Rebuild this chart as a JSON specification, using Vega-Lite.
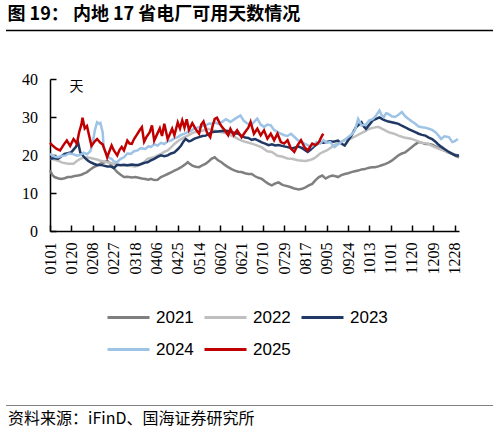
{
  "$schema": "https://vega.github.io/schema/vega-lite/v6.json",
  "padding": {"left": 5, "top": 6, "right": 5, "bottom": 3},
  "width": 409,
  "height": 152,
  "config": {"view": {"stroke": null}},
  "title": {"text": "图 19：  内地 17 省电厂可用天数情况", "anchor": "start", "frame": "bounds", "font": "Noto Sans CJK SC", "fontSize": 18, "fontWeight": "bold", "color": "black", "offset": 6, "dx": 2},
  "data": {"values": [
    {"year":"2021","day":1,"value":16.0},{"year":"2021","day":3,"value":14.8},{"year":"2021","day":5,"value":14.2},{"year":"2021","day":8,"value":13.9},{"year":"2021","day":11,"value":13.7},{"year":"2021","day":14,"value":13.9},{"year":"2021","day":17,"value":14.2},{"year":"2021","day":20,"value":14.2},{"year":"2021","day":23,"value":14.5},{"year":"2021","day":26,"value":14.6},{"year":"2021","day":29,"value":14.8},{"year":"2021","day":32,"value":15.2},{"year":"2021","day":34,"value":15.5},{"year":"2021","day":37,"value":16.2},{"year":"2021","day":40,"value":16.8},{"year":"2021","day":43,"value":17.2},{"year":"2021","day":46,"value":17.7},{"year":"2021","day":49,"value":18.0},{"year":"2021","day":52,"value":18.5},{"year":"2021","day":54,"value":18.0},{"year":"2021","day":56,"value":17.2},{"year":"2021","day":58,"value":16.5},{"year":"2021","day":61,"value":15.5},{"year":"2021","day":64,"value":14.8},{"year":"2021","day":67,"value":14.2},{"year":"2021","day":70,"value":14.3},{"year":"2021","day":74,"value":14.1},{"year":"2021","day":77,"value":14.2},{"year":"2021","day":80,"value":14.0},{"year":"2021","day":83,"value":13.8},{"year":"2021","day":86,"value":13.7},{"year":"2021","day":89,"value":13.5},{"year":"2021","day":91,"value":13.7},{"year":"2021","day":94,"value":13.4},{"year":"2021","day":97,"value":13.5},{"year":"2021","day":100,"value":14.2},{"year":"2021","day":103,"value":14.6},{"year":"2021","day":106,"value":15.0},{"year":"2021","day":109,"value":15.4},{"year":"2021","day":112,"value":15.9},{"year":"2021","day":115,"value":16.3},{"year":"2021","day":118,"value":16.8},{"year":"2021","day":121,"value":17.4},{"year":"2021","day":124,"value":18.1},{"year":"2021","day":126,"value":17.6},{"year":"2021","day":128,"value":17.2},{"year":"2021","day":131,"value":16.9},{"year":"2021","day":134,"value":16.8},{"year":"2021","day":137,"value":17.3},{"year":"2021","day":140,"value":17.7},{"year":"2021","day":143,"value":18.4},{"year":"2021","day":145,"value":19.0},{"year":"2021","day":148,"value":19.4},{"year":"2021","day":151,"value":18.6},{"year":"2021","day":154,"value":18.1},{"year":"2021","day":157,"value":17.4},{"year":"2021","day":160,"value":16.8},{"year":"2021","day":163,"value":16.3},{"year":"2021","day":166,"value":15.9},{"year":"2021","day":169,"value":15.6},{"year":"2021","day":172,"value":15.5},{"year":"2021","day":175,"value":15.2},{"year":"2021","day":178,"value":15.0},{"year":"2021","day":181,"value":15.0},{"year":"2021","day":184,"value":14.4},{"year":"2021","day":187,"value":14.0},{"year":"2021","day":190,"value":13.7},{"year":"2021","day":193,"value":13.0},{"year":"2021","day":196,"value":12.4},{"year":"2021","day":199,"value":12.0},{"year":"2021","day":202,"value":12.5},{"year":"2021","day":205,"value":12.8},{"year":"2021","day":208,"value":12.2},{"year":"2021","day":210,"value":12.0},{"year":"2021","day":213,"value":11.8},{"year":"2021","day":216,"value":11.5},{"year":"2021","day":219,"value":11.2},{"year":"2021","day":223,"value":10.9},{"year":"2021","day":226,"value":11.1},{"year":"2021","day":229,"value":11.5},{"year":"2021","day":232,"value":12.0},{"year":"2021","day":235,"value":12.4},{"year":"2021","day":238,"value":13.4},{"year":"2021","day":241,"value":14.2},{"year":"2021","day":244,"value":14.6},{"year":"2021","day":247,"value":13.8},{"year":"2021","day":250,"value":14.3},{"year":"2021","day":253,"value":14.6},{"year":"2021","day":256,"value":14.4},{"year":"2021","day":258,"value":14.2},{"year":"2021","day":261,"value":14.7},{"year":"2021","day":264,"value":15.0},{"year":"2021","day":267,"value":15.2},{"year":"2021","day":270,"value":15.5},{"year":"2021","day":273,"value":15.7},{"year":"2021","day":276,"value":15.9},{"year":"2021","day":279,"value":16.2},{"year":"2021","day":282,"value":16.3},{"year":"2021","day":285,"value":16.6},{"year":"2021","day":288,"value":16.8},{"year":"2021","day":291,"value":16.8},{"year":"2021","day":294,"value":17.0},{"year":"2021","day":297,"value":17.3},{"year":"2021","day":300,"value":17.6},{"year":"2021","day":303,"value":18.0},{"year":"2021","day":306,"value":18.5},{"year":"2021","day":309,"value":19.2},{"year":"2021","day":312,"value":19.9},{"year":"2021","day":315,"value":20.4},{"year":"2021","day":318,"value":20.7},{"year":"2021","day":321,"value":21.4},{"year":"2021","day":324,"value":22.1},{"year":"2021","day":327,"value":22.8},{"year":"2021","day":330,"value":23.4},{"year":"2021","day":333,"value":23.2},{"year":"2021","day":336,"value":22.9},{"year":"2021","day":339,"value":22.9},{"year":"2021","day":342,"value":22.7},{"year":"2021","day":345,"value":22.3},{"year":"2021","day":348,"value":21.8},{"year":"2021","day":351,"value":21.4},{"year":"2021","day":354,"value":21.0},{"year":"2021","day":357,"value":20.6},{"year":"2021","day":360,"value":20.3},{"year":"2021","day":363,"value":19.8},{"year":"2021","day":366,"value":19.4},
    {"year":"2022","day":1,"value":19.0},{"year":"2022","day":5,"value":18.8},{"year":"2022","day":8,"value":18.5},{"year":"2022","day":12,"value":18.0},{"year":"2022","day":17,"value":17.7},{"year":"2022","day":22,"value":17.7},{"year":"2022","day":25,"value":18.4},{"year":"2022","day":28,"value":19.0},{"year":"2022","day":31,"value":19.3},{"year":"2022","day":34,"value":19.4},{"year":"2022","day":37,"value":19.2},{"year":"2022","day":40,"value":19.0},{"year":"2022","day":43,"value":18.8},{"year":"2022","day":46,"value":18.5},{"year":"2022","day":49,"value":18.3},{"year":"2022","day":52,"value":18.1},{"year":"2022","day":55,"value":17.9},{"year":"2022","day":58,"value":17.7},{"year":"2022","day":61,"value":17.5},{"year":"2022","day":64,"value":17.4},{"year":"2022","day":67,"value":17.3},{"year":"2022","day":70,"value":17.2},{"year":"2022","day":74,"value":17.1},{"year":"2022","day":77,"value":17.0},{"year":"2022","day":80,"value":17.3},{"year":"2022","day":83,"value":17.7},{"year":"2022","day":86,"value":18.4},{"year":"2022","day":88,"value":19.0},{"year":"2022","day":91,"value":19.2},{"year":"2022","day":94,"value":19.4},{"year":"2022","day":97,"value":19.9},{"year":"2022","day":100,"value":20.3},{"year":"2022","day":103,"value":20.8},{"year":"2022","day":106,"value":21.2},{"year":"2022","day":109,"value":22.0},{"year":"2022","day":112,"value":22.9},{"year":"2022","day":115,"value":23.6},{"year":"2022","day":118,"value":24.2},{"year":"2022","day":121,"value":24.7},{"year":"2022","day":124,"value":25.1},{"year":"2022","day":127,"value":25.6},{"year":"2022","day":130,"value":26.0},{"year":"2022","day":134,"value":26.2},{"year":"2022","day":137,"value":26.4},{"year":"2022","day":140,"value":26.7},{"year":"2022","day":142,"value":26.9},{"year":"2022","day":145,"value":26.6},{"year":"2022","day":148,"value":26.4},{"year":"2022","day":151,"value":26.2},{"year":"2022","day":154,"value":26.0},{"year":"2022","day":157,"value":25.8},{"year":"2022","day":160,"value":25.6},{"year":"2022","day":163,"value":25.1},{"year":"2022","day":166,"value":24.7},{"year":"2022","day":169,"value":24.2},{"year":"2022","day":172,"value":23.8},{"year":"2022","day":176,"value":23.4},{"year":"2022","day":181,"value":23.0},{"year":"2022","day":185,"value":22.6},{"year":"2022","day":190,"value":22.0},{"year":"2022","day":195,"value":21.0},{"year":"2022","day":199,"value":20.8},{"year":"2022","day":204,"value":19.8},{"year":"2022","day":208,"value":19.6},{"year":"2022","day":213,"value":19.1},{"year":"2022","day":217,"value":19.0},{"year":"2022","day":222,"value":18.6},{"year":"2022","day":226,"value":18.5},{"year":"2022","day":229,"value":18.4},{"year":"2022","day":232,"value":18.6},{"year":"2022","day":236,"value":19.0},{"year":"2022","day":239,"value":19.6},{"year":"2022","day":242,"value":20.4},{"year":"2022","day":245,"value":20.8},{"year":"2022","day":248,"value":21.2},{"year":"2022","day":252,"value":22.0},{"year":"2022","day":256,"value":22.8},{"year":"2022","day":260,"value":23.4},{"year":"2022","day":265,"value":24.0},{"year":"2022","day":270,"value":24.4},{"year":"2022","day":274,"value":25.0},{"year":"2022","day":278,"value":25.6},{"year":"2022","day":282,"value":26.2},{"year":"2022","day":286,"value":26.9},{"year":"2022","day":290,"value":27.2},{"year":"2022","day":294,"value":27.4},{"year":"2022","day":298,"value":26.8},{"year":"2022","day":303,"value":26.0},{"year":"2022","day":308,"value":25.6},{"year":"2022","day":312,"value":25.1},{"year":"2022","day":317,"value":24.6},{"year":"2022","day":323,"value":24.3},{"year":"2022","day":328,"value":23.8},{"year":"2022","day":333,"value":23.2},{"year":"2022","day":338,"value":23.0},{"year":"2022","day":343,"value":22.3},{"year":"2022","day":348,"value":21.6},{"year":"2022","day":353,"value":21.2},{"year":"2022","day":358,"value":20.6},{"year":"2022","day":362,"value":20.2},{"year":"2022","day":366,"value":19.9},
    {"year":"2023","day":1,"value":19.0},{"year":"2023","day":5,"value":19.2},{"year":"2023","day":8,"value":19.0},{"year":"2023","day":11,"value":19.6},{"year":"2023","day":14,"value":20.3},{"year":"2023","day":17,"value":20.5},{"year":"2023","day":20,"value":20.7},{"year":"2023","day":22,"value":21.4},{"year":"2023","day":24,"value":22.1},{"year":"2023","day":26,"value":23.4},{"year":"2023","day":28,"value":20.7},{"year":"2023","day":31,"value":19.6},{"year":"2023","day":33,"value":19.0},{"year":"2023","day":35,"value":18.5},{"year":"2023","day":37,"value":18.1},{"year":"2023","day":40,"value":17.7},{"year":"2023","day":43,"value":17.4},{"year":"2023","day":46,"value":17.4},{"year":"2023","day":49,"value":17.2},{"year":"2023","day":52,"value":17.0},{"year":"2023","day":55,"value":17.0},{"year":"2023","day":58,"value":16.6},{"year":"2023","day":61,"value":17.4},{"year":"2023","day":64,"value":17.3},{"year":"2023","day":67,"value":17.4},{"year":"2023","day":70,"value":17.3},{"year":"2023","day":74,"value":17.5},{"year":"2023","day":77,"value":17.4},{"year":"2023","day":80,"value":17.4},{"year":"2023","day":83,"value":17.7},{"year":"2023","day":86,"value":18.0},{"year":"2023","day":88,"value":18.1},{"year":"2023","day":91,"value":18.6},{"year":"2023","day":94,"value":19.0},{"year":"2023","day":97,"value":19.5},{"year":"2023","day":100,"value":19.9},{"year":"2023","day":103,"value":19.7},{"year":"2023","day":106,"value":19.9},{"year":"2023","day":109,"value":20.4},{"year":"2023","day":112,"value":20.7},{"year":"2023","day":115,"value":21.5},{"year":"2023","day":118,"value":22.5},{"year":"2023","day":120,"value":23.5},{"year":"2023","day":122,"value":24.2},{"year":"2023","day":125,"value":23.6},{"year":"2023","day":127,"value":23.8},{"year":"2023","day":130,"value":24.3},{"year":"2023","day":134,"value":24.7},{"year":"2023","day":137,"value":25.0},{"year":"2023","day":140,"value":25.1},{"year":"2023","day":143,"value":25.6},{"year":"2023","day":145,"value":26.0},{"year":"2023","day":148,"value":26.1},{"year":"2023","day":151,"value":26.2},{"year":"2023","day":154,"value":26.3},{"year":"2023","day":157,"value":26.4},{"year":"2023","day":160,"value":26.3},{"year":"2023","day":163,"value":26.0},{"year":"2023","day":166,"value":25.8},{"year":"2023","day":169,"value":25.6},{"year":"2023","day":172,"value":25.0},{"year":"2023","day":175,"value":24.6},{"year":"2023","day":178,"value":24.5},{"year":"2023","day":181,"value":24.0},{"year":"2023","day":184,"value":24.2},{"year":"2023","day":187,"value":23.8},{"year":"2023","day":190,"value":23.3},{"year":"2023","day":193,"value":23.0},{"year":"2023","day":196,"value":22.6},{"year":"2023","day":199,"value":22.8},{"year":"2023","day":202,"value":22.5},{"year":"2023","day":205,"value":22.6},{"year":"2023","day":208,"value":22.4},{"year":"2023","day":211,"value":22.2},{"year":"2023","day":214,"value":22.0},{"year":"2023","day":217,"value":21.7},{"year":"2023","day":220,"value":22.0},{"year":"2023","day":223,"value":22.2},{"year":"2023","day":226,"value":21.8},{"year":"2023","day":229,"value":21.2},{"year":"2023","day":231,"value":20.8},{"year":"2023","day":234,"value":21.5},{"year":"2023","day":236,"value":22.1},{"year":"2023","day":239,"value":22.8},{"year":"2023","day":242,"value":23.4},{"year":"2023","day":245,"value":23.2},{"year":"2023","day":248,"value":23.4},{"year":"2023","day":251,"value":23.6},{"year":"2023","day":254,"value":23.5},{"year":"2023","day":258,"value":23.8},{"year":"2023","day":261,"value":23.0},{"year":"2023","day":264,"value":22.5},{"year":"2023","day":267,"value":23.8},{"year":"2023","day":270,"value":25.1},{"year":"2023","day":272,"value":26.2},{"year":"2023","day":274,"value":27.3},{"year":"2023","day":276,"value":27.8},{"year":"2023","day":279,"value":28.6},{"year":"2023","day":281,"value":27.5},{"year":"2023","day":283,"value":26.9},{"year":"2023","day":286,"value":28.0},{"year":"2023","day":289,"value":29.1},{"year":"2023","day":292,"value":29.5},{"year":"2023","day":295,"value":29.9},{"year":"2023","day":298,"value":29.4},{"year":"2023","day":300,"value":29.1},{"year":"2023","day":303,"value":28.8},{"year":"2023","day":306,"value":28.6},{"year":"2023","day":309,"value":28.4},{"year":"2023","day":312,"value":28.2},{"year":"2023","day":315,"value":27.7},{"year":"2023","day":318,"value":27.3},{"year":"2023","day":321,"value":26.8},{"year":"2023","day":324,"value":26.4},{"year":"2023","day":327,"value":26.0},{"year":"2023","day":330,"value":25.6},{"year":"2023","day":333,"value":25.3},{"year":"2023","day":336,"value":25.1},{"year":"2023","day":339,"value":24.6},{"year":"2023","day":342,"value":24.2},{"year":"2023","day":345,"value":23.5},{"year":"2023","day":347,"value":22.9},{"year":"2023","day":350,"value":22.2},{"year":"2023","day":353,"value":21.6},{"year":"2023","day":356,"value":21.0},{"year":"2023","day":360,"value":20.3},{"year":"2023","day":363,"value":19.9},{"year":"2023","day":366,"value":19.9},
    {"year":"2024","day":1,"value":20.3},{"year":"2024","day":5,"value":19.6},{"year":"2024","day":8,"value":19.4},{"year":"2024","day":12,"value":19.8},{"year":"2024","day":15,"value":19.9},{"year":"2024","day":18,"value":20.4},{"year":"2024","day":21,"value":20.3},{"year":"2024","day":25,"value":19.8},{"year":"2024","day":28,"value":20.0},{"year":"2024","day":31,"value":20.6},{"year":"2024","day":34,"value":20.2},{"year":"2024","day":37,"value":21.0},{"year":"2024","day":39,"value":23.0},{"year":"2024","day":41,"value":26.5},{"year":"2024","day":43,"value":28.6},{"year":"2024","day":45,"value":28.2},{"year":"2024","day":46,"value":28.4},{"year":"2024","day":48,"value":26.0},{"year":"2024","day":49,"value":21.6},{"year":"2024","day":52,"value":19.9},{"year":"2024","day":54,"value":19.2},{"year":"2024","day":56,"value":19.0},{"year":"2024","day":58,"value":18.3},{"year":"2024","day":61,"value":18.1},{"year":"2024","day":64,"value":19.0},{"year":"2024","day":67,"value":19.4},{"year":"2024","day":70,"value":20.4},{"year":"2024","day":73,"value":20.3},{"year":"2024","day":76,"value":21.0},{"year":"2024","day":79,"value":21.2},{"year":"2024","day":82,"value":21.8},{"year":"2024","day":86,"value":21.6},{"year":"2024","day":89,"value":22.3},{"year":"2024","day":91,"value":22.1},{"year":"2024","day":94,"value":22.8},{"year":"2024","day":97,"value":22.5},{"year":"2024","day":100,"value":23.2},{"year":"2024","day":103,"value":22.9},{"year":"2024","day":106,"value":23.6},{"year":"2024","day":109,"value":23.8},{"year":"2024","day":112,"value":24.4},{"year":"2024","day":115,"value":24.7},{"year":"2024","day":118,"value":25.3},{"year":"2024","day":121,"value":25.6},{"year":"2024","day":124,"value":26.1},{"year":"2024","day":127,"value":26.4},{"year":"2024","day":130,"value":27.0},{"year":"2024","day":134,"value":27.3},{"year":"2024","day":137,"value":27.6},{"year":"2024","day":140,"value":27.8},{"year":"2024","day":143,"value":28.3},{"year":"2024","day":145,"value":28.2},{"year":"2024","day":148,"value":28.6},{"year":"2024","day":151,"value":28.2},{"year":"2024","day":155,"value":28.8},{"year":"2024","day":158,"value":29.4},{"year":"2024","day":160,"value":29.1},{"year":"2024","day":162,"value":28.7},{"year":"2024","day":166,"value":29.5},{"year":"2024","day":171,"value":30.4},{"year":"2024","day":174,"value":29.0},{"year":"2024","day":177,"value":28.3},{"year":"2024","day":181,"value":28.0},{"year":"2024","day":184,"value":29.0},{"year":"2024","day":186,"value":29.6},{"year":"2024","day":189,"value":28.0},{"year":"2024","day":192,"value":27.4},{"year":"2024","day":195,"value":28.0},{"year":"2024","day":198,"value":27.8},{"year":"2024","day":201,"value":26.6},{"year":"2024","day":204,"value":26.1},{"year":"2024","day":207,"value":25.6},{"year":"2024","day":210,"value":25.2},{"year":"2024","day":213,"value":25.0},{"year":"2024","day":216,"value":25.6},{"year":"2024","day":219,"value":24.8},{"year":"2024","day":222,"value":23.9},{"year":"2024","day":225,"value":23.6},{"year":"2024","day":228,"value":23.0},{"year":"2024","day":231,"value":22.6},{"year":"2024","day":234,"value":22.1},{"year":"2024","day":237,"value":22.8},{"year":"2024","day":239,"value":23.4},{"year":"2024","day":242,"value":23.0},{"year":"2024","day":245,"value":23.9},{"year":"2024","day":248,"value":23.2},{"year":"2024","day":251,"value":23.4},{"year":"2024","day":255,"value":22.1},{"year":"2024","day":258,"value":22.8},{"year":"2024","day":261,"value":23.4},{"year":"2024","day":264,"value":24.0},{"year":"2024","day":267,"value":24.7},{"year":"2024","day":270,"value":25.4},{"year":"2024","day":273,"value":26.4},{"year":"2024","day":276,"value":29.5},{"year":"2024","day":279,"value":27.8},{"year":"2024","day":283,"value":28.0},{"year":"2024","day":286,"value":29.1},{"year":"2024","day":289,"value":29.4},{"year":"2024","day":292,"value":30.4},{"year":"2024","day":295,"value":31.7},{"year":"2024","day":297,"value":30.5},{"year":"2024","day":299,"value":30.0},{"year":"2024","day":301,"value":31.0},{"year":"2024","day":303,"value":30.8},{"year":"2024","day":306,"value":30.2},{"year":"2024","day":309,"value":30.0},{"year":"2024","day":312,"value":30.6},{"year":"2024","day":315,"value":31.3},{"year":"2024","day":318,"value":30.2},{"year":"2024","day":321,"value":29.5},{"year":"2024","day":324,"value":28.8},{"year":"2024","day":327,"value":28.2},{"year":"2024","day":330,"value":27.5},{"year":"2024","day":333,"value":27.3},{"year":"2024","day":336,"value":27.2},{"year":"2024","day":339,"value":26.9},{"year":"2024","day":342,"value":26.6},{"year":"2024","day":345,"value":26.0},{"year":"2024","day":348,"value":25.0},{"year":"2024","day":350,"value":24.2},{"year":"2024","day":353,"value":24.9},{"year":"2024","day":357,"value":24.7},{"year":"2024","day":360,"value":23.4},{"year":"2024","day":362,"value":23.6},{"year":"2024","day":365,"value":24.2},
    {"year":"2025","day":1,"value":23.2},{"year":"2025","day":4,"value":22.3},{"year":"2025","day":7,"value":21.6},{"year":"2025","day":10,"value":21.2},{"year":"2025","day":13,"value":22.6},{"year":"2025","day":16,"value":23.8},{"year":"2025","day":19,"value":22.4},{"year":"2025","day":22,"value":24.2},{"year":"2025","day":25,"value":23.0},{"year":"2025","day":27,"value":26.0},{"year":"2025","day":29,"value":28.0},{"year":"2025","day":30,"value":29.8},{"year":"2025","day":32,"value":27.0},{"year":"2025","day":34,"value":27.6},{"year":"2025","day":36,"value":25.0},{"year":"2025","day":38,"value":22.4},{"year":"2025","day":41,"value":23.6},{"year":"2025","day":43,"value":24.2},{"year":"2025","day":46,"value":23.2},{"year":"2025","day":48,"value":22.8},{"year":"2025","day":50,"value":21.2},{"year":"2025","day":52,"value":19.4},{"year":"2025","day":54,"value":21.0},{"year":"2025","day":56,"value":22.5},{"year":"2025","day":58,"value":21.2},{"year":"2025","day":61,"value":19.9},{"year":"2025","day":63,"value":21.3},{"year":"2025","day":65,"value":22.1},{"year":"2025","day":67,"value":21.2},{"year":"2025","day":70,"value":23.8},{"year":"2025","day":72,"value":23.0},{"year":"2025","day":74,"value":22.9},{"year":"2025","day":76,"value":24.2},{"year":"2025","day":78,"value":25.1},{"year":"2025","day":81,"value":26.5},{"year":"2025","day":83,"value":27.3},{"year":"2025","day":85,"value":23.5},{"year":"2025","day":87,"value":24.7},{"year":"2025","day":90,"value":26.0},{"year":"2025","day":92,"value":27.8},{"year":"2025","day":94,"value":23.8},{"year":"2025","day":96,"value":25.1},{"year":"2025","day":99,"value":27.0},{"year":"2025","day":101,"value":25.0},{"year":"2025","day":103,"value":28.2},{"year":"2025","day":106,"value":24.2},{"year":"2025","day":108,"value":25.5},{"year":"2025","day":110,"value":26.9},{"year":"2025","day":112,"value":25.2},{"year":"2025","day":115,"value":28.6},{"year":"2025","day":117,"value":27.0},{"year":"2025","day":119,"value":29.1},{"year":"2025","day":121,"value":27.2},{"year":"2025","day":123,"value":29.4},{"year":"2025","day":125,"value":26.6},{"year":"2025","day":128,"value":28.4},{"year":"2025","day":131,"value":26.8},{"year":"2025","day":134,"value":25.6},{"year":"2025","day":136,"value":28.0},{"year":"2025","day":138,"value":28.8},{"year":"2025","day":141,"value":26.0},{"year":"2025","day":144,"value":24.7},{"year":"2025","day":146,"value":27.5},{"year":"2025","day":148,"value":29.5},{"year":"2025","day":150,"value":29.8},{"year":"2025","day":153,"value":28.0},{"year":"2025","day":155,"value":27.2},{"year":"2025","day":157,"value":26.5},{"year":"2025","day":160,"value":25.2},{"year":"2025","day":162,"value":26.9},{"year":"2025","day":165,"value":25.2},{"year":"2025","day":168,"value":26.5},{"year":"2025","day":172,"value":24.7},{"year":"2025","day":175,"value":26.0},{"year":"2025","day":178,"value":27.2},{"year":"2025","day":180,"value":28.7},{"year":"2025","day":183,"value":25.6},{"year":"2025","day":186,"value":26.9},{"year":"2025","day":189,"value":25.2},{"year":"2025","day":192,"value":26.5},{"year":"2025","day":195,"value":24.3},{"year":"2025","day":198,"value":25.6},{"year":"2025","day":201,"value":23.9},{"year":"2025","day":204,"value":25.6},{"year":"2025","day":207,"value":23.4},{"year":"2025","day":210,"value":23.0},{"year":"2025","day":213,"value":23.9},{"year":"2025","day":216,"value":21.7},{"year":"2025","day":219,"value":20.8},{"year":"2025","day":222,"value":22.6},{"year":"2025","day":225,"value":23.9},{"year":"2025","day":228,"value":22.1},{"year":"2025","day":231,"value":21.2},{"year":"2025","day":235,"value":23.0},{"year":"2025","day":238,"value":22.6},{"year":"2025","day":241,"value":23.4},{"year":"2025","day":244,"value":25.2},{"year":"2025","day":245,"value":25.6}
  ]},
  "layer": [
    {
      "mark": {"type": "line", "strokeWidth": 2.5},
      "encoding": {
        "x": {
          "field": "day",
          "type": "quantitative",
          "scale": {"domain": [1, 366], "nice": false, "zero": false},
          "axis": {
            "title": null,
            "values": [1, 20, 39, 58, 77, 96, 115, 134, 153, 172, 191, 210, 229, 248, 267, 286, 305, 324, 343, 362],
            "labelExpr": "timeFormat(datetime(2021, 0, datum.value), '%m%d')",
            "labelAngle": -90,
            "labelFont": "Liberation Serif",
            "labelFontSize": 16,
            "labelColor": "black",
            "labelPadding": 17,
            "labelOverlap": false,
            "labelFlush": false,
            "labelBound": false,
            "grid": false,
            "domainColor": "black",
            "domainWidth": 1.5,
            "tickColor": "black",
            "tickWidth": 1.5,
            "tickSize": -6
          }
        },
        "y": {
          "field": "value",
          "type": "quantitative",
          "scale": {"domain": [0, 40], "nice": false},
          "axis": {
            "title": "天",
            "titleAngle": 0,
            "titleX": 26,
            "titleY": 7,
            "titleAlign": "center",
            "titleBaseline": "middle",
            "titleFont": "Noto Sans CJK SC",
            "titleFontSize": 14,
            "titleFontWeight": "normal",
            "titleColor": "black",
            "values": [0, 10, 20, 30, 40],
            "labelFont": "Liberation Serif",
            "labelFontSize": 16,
            "labelColor": "black",
            "labelPadding": 18.5,
            "grid": false,
            "domainColor": "black",
            "domainWidth": 1.5,
            "tickColor": "black",
            "tickWidth": 1.5,
            "tickSize": -6
          }
        },
        "color": {
          "field": "year",
          "type": "nominal",
          "scale": {"domain": ["2021", "2022", "2023", "2024", "2025"], "range": ["#7F7F7F", "#BFBFBF", "#1F3864", "#9DC3E6", "#C00000"]},
          "legend": {
            "title": null,
            "orient": "none",
            "legendX": 56,
            "legendY": 230,
            "columns": 3,
            "direction": "horizontal",
            "symbolType": "stroke",
            "symbolSize": 1764,
            "symbolStrokeWidth": 3,
            "labelFont": "Liberation Sans",
            "labelFontSize": 17,
            "labelColor": "black",
            "labelOffset": 5,
            "columnPadding": 9,
            "rowPadding": 14,
            "clipHeight": 17
          }
        }
      }
    },
    {
      "mark": {"type": "point", "size": 0, "strokeWidth": 0},
      "encoding": {
        "x": {
          "field": "day",
          "type": "quantitative",
          "scale": {"domain": [1, 366], "nice": false, "zero": false, "range": [-44.5, 442.5]},
          "axis": {"orient": "top", "offset": 49, "domain": true, "domainColor": "black", "domainOpacity": 1, "domainWidth": 1.5, "ticks": false, "labels": false, "grid": false, "title": null, "zindex": 2}
        }
      }
    },
    {
      "mark": {"type": "point", "size": 0, "strokeWidth": 0},
      "encoding": {
        "x": {
          "field": "day",
          "type": "quantitative",
          "scale": {"domain": [1, 366], "nice": false, "zero": false, "range": [-44.5, 442.5]},
          "axis": {
            "orient": "bottom",
            "offset": 174,
            "domain": true,
            "domainColor": "#808080",
            "domainOpacity": 1,
            "domainWidth": 1,
            "ticks": false,
            "labels": false,
            "grid": false,
            "zindex": 2,
            "title": "资料来源：iFinD、国海证券研究所",
            "titleX": -42.5,
            "titleY": 13,
            "titleAngle": 0,
            "titleAlign": "left",
            "titleBaseline": "middle",
            "titleFont": "Noto Sans CJK SC",
            "titleFontSize": 16,
            "titleFontWeight": "normal",
            "titleColor": "black"
          }
        }
      }
    }
  ],
  "resolve": {"scale": {"x": "independent"}, "axis": {"x": "independent"}}
}
